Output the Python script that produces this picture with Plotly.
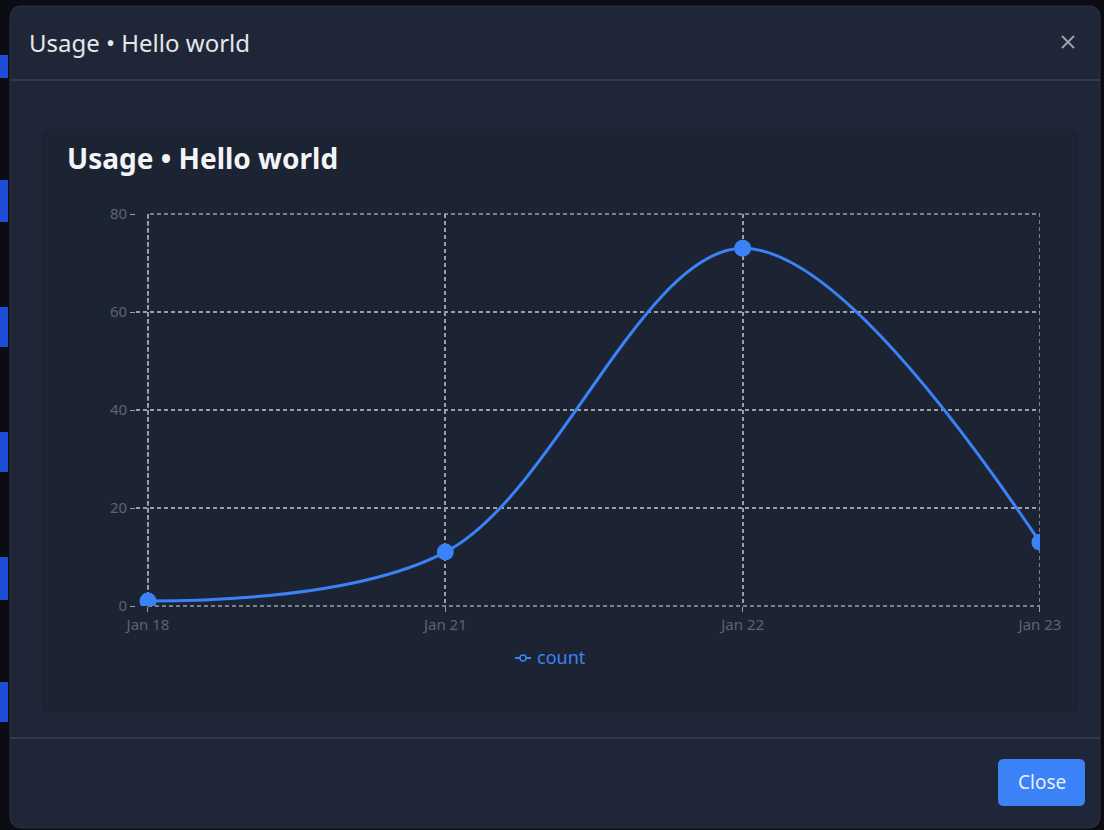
import plotly.graph_objects as go

W, H = 1104, 830

# data
dates = ["Jan 18", "Jan 21", "Jan 22", "Jan 23"]
counts = [1, 11, 73, 13]
y_ticks = [0, 20, 40, 60, 80]

BLUE = "#3b82f6"
MODAL = "#1f2637"
CARD = "#1c2333"
GRID = "#9aa0aa"
TICK = "#5d6472"
FONT = "Noto Sans"


def px(x):
    return x / W


def py(y):
    return 1 - y / H


def rrect(x0, y0, x1, y1, r):
    # rounded rectangle path in paper coords, input in pixels
    p = [
        f"M {px(x0 + r)} {py(y0)}",
        f"L {px(x1 - r)} {py(y0)}",
        f"Q {px(x1)} {py(y0)} {px(x1)} {py(y0 + r)}",
        f"L {px(x1)} {py(y1 - r)}",
        f"Q {px(x1)} {py(y1)} {px(x1 - r)} {py(y1)}",
        f"L {px(x0 + r)} {py(y1)}",
        f"Q {px(x0)} {py(y1)} {px(x0)} {py(y1 - r)}",
        f"L {px(x0)} {py(y0 + r)}",
        f"Q {px(x0)} {py(y0)} {px(x0 + r)} {py(y0)}",
        "Z",
    ]
    return " ".join(p)


fig = go.Figure()
fig.add_trace(go.Scatter(
    x=dates, y=counts, name="count", mode="lines+markers",
    line=dict(color=BLUE, width=3, shape="spline", smoothing=1),
    marker=dict(color=BLUE, size=17),
    showlegend=False,
))

shapes = []
# background page bits on the left edge
for y0, y1 in [(55, 78), (180, 222), (307, 347), (432, 472), (557, 600), (682, 722)]:
    shapes.append(dict(type="rect", xref="paper", yref="paper", x0=0, x1=px(8),
                       y0=py(y1), y1=py(y0), fillcolor="#1d4ed8", line_width=0, layer="below"))
# modal
shapes.append(dict(type="path", xref="paper", yref="paper", path=rrect(10, 6, 1100, 828, 12),
                   fillcolor=MODAL, line=dict(color="#2b3345", width=1), layer="below"))
# header / footer separators
for y in [80, 738]:
    shapes.append(dict(type="line", xref="paper", yref="paper", x0=px(10), x1=px(1100),
                       y0=py(y), y1=py(y), line=dict(color="#3a4254", width=1.5), layer="below"))
# close X
shapes.append(dict(type="line", xref="paper", yref="paper", x0=px(1062), x1=px(1074),
                   y0=py(36), y1=py(48), line=dict(color="#9ca3af", width=2)))
shapes.append(dict(type="line", xref="paper", yref="paper", x0=px(1062), x1=px(1074),
                   y0=py(48), y1=py(36), line=dict(color="#9ca3af", width=2)))
# inner card
shapes.append(dict(type="path", xref="paper", yref="paper", path=rrect(42, 130, 1078, 712, 6),
                   fillcolor=CARD, line=dict(color="#1a2130", width=1), layer="below"))
# dashed frame round the plot area (first to last category)
shapes.append(dict(type="rect", xref="x", yref="y domain", x0=0, x1=len(dates) - 1, y0=0, y1=1,
                   line=dict(color=GRID, width=1.5, dash="4px,3px"), layer="below"))
# legend swatch
shapes.append(dict(type="line", xref="paper", yref="paper", x0=px(515), x1=px(531),
                   y0=py(658), y1=py(658), line=dict(color=BLUE, width=2)))
shapes.append(dict(type="circle", xref="paper", yref="paper", x0=px(520), x1=px(526),
                   y0=py(661), y1=py(655), fillcolor=CARD, line=dict(color=BLUE, width=1.5)))
# close button
shapes.append(dict(type="path", xref="paper", yref="paper", path=rrect(998, 759, 1085, 806, 6),
                   fillcolor=BLUE, line_width=0))

annotations = [
    dict(text="Usage • Hello world", x=px(27), y=py(42), xref="paper", yref="paper",
         xanchor="left", yanchor="middle", showarrow=False,
         font=dict(family=FONT, size=24, color="#e5e7eb")),
    dict(text="<b>Usage • Hello world</b>", x=px(65), y=py(158), xref="paper", yref="paper",
         xanchor="left", yanchor="middle", showarrow=False,
         font=dict(family=FONT, size=28, color="#f3f4f6")),
    dict(text="count", x=px(535), y=py(657), xref="paper", yref="paper",
         xanchor="left", yanchor="middle", showarrow=False,
         font=dict(family=FONT, size=18, color=BLUE)),
    dict(text="Close", x=px(1041.5), y=py(782), xref="paper", yref="paper",
         xanchor="center", yanchor="middle", showarrow=False,
         font=dict(family=FONT, size=19, color="#e8efff")),
]

axis_common = dict(
    showgrid=True, gridcolor=GRID, griddash="4px,3px", gridwidth=1.5,
    zeroline=False, showline=False, automargin=False,
    ticks="outside", ticklen=5, tickcolor=GRID,
    tickfont=dict(family=FONT, size=15, color=TICK),
)

# a little room left of the first category so its marker is not cut
pad = 0.04
x0_px, x1_px = 148, 1040
step = (x1_px - x0_px) / (len(dates) - 1)

fig.update_layout(
    width=W, height=H,
    margin=dict(l=0, r=0, t=0, b=0, autoexpand=False),
    paper_bgcolor="#0b0d12",
    plot_bgcolor="rgba(0,0,0,0)",
    font=dict(family=FONT),
    xaxis=dict(domain=[px(x0_px - pad * step), px(x1_px)], range=[-pad, len(dates) - 1], **axis_common),
    yaxis=dict(domain=[py(606), py(214)], range=[0, 80], tickvals=y_ticks, **axis_common),
    showlegend=False,
    shapes=shapes,
    annotations=annotations,
)

fig.write_html("out.html", config={"displayModeBar": False},
               post_script="document.body.style.margin='0';document.body.style.background='#0b0d12';")
